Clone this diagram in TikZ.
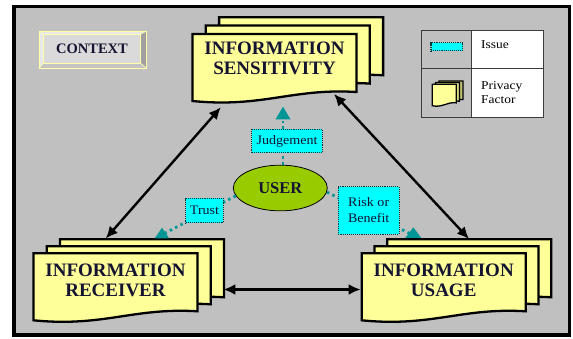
\documentclass[tikz,border=0pt]{standalone}
\usepackage{fontspec}
\setmainfont{Liberation Serif}
\usetikzlibrary{arrows.meta,shapes.geometric}
\definecolor{bg}{RGB}{192,192,192}
\definecolor{sheetyellow}{RGB}{255,255,153}
\definecolor{issuecyan}{RGB}{0,255,255}
\definecolor{tealline}{RGB}{0,150,150}
\definecolor{userg}{RGB}{153,204,0}
\definecolor{navytext}{RGB}{20,20,50}
\definecolor{boxedge}{RGB}{0,60,60}
\definecolor{ctxface}{RGB}{218,218,218}
\definecolor{ctxlight}{RGB}{232,232,232}
\definecolor{ctxdark}{RGB}{160,160,160}
\definecolor{ctxedge}{RGB}{255,255,170}
\definecolor{legline}{RGB}{60,60,60}
\newcommand{\wideT}[1]{\scalebox{1.08}[1]{#1}}
\newcommand{\wideL}[1]{\scalebox{1.12}[1]{#1}}
\tikzset{
  sheetline/.style={fill=sheetyellow, draw=black, line width=2.3pt, line join=miter},
  sheet/.pic={\path[sheetline] (0,0) -- (164,0) -- (164,58)
      .. controls (100,54) and (70,74) .. (0,67) -- cycle;},
  bigtext/.style={align=center, inner sep=0pt, font=\fontsize{19}{20}\selectfont\bfseries, text=navytext},
  issuebox/.style={draw=boxedge, densely dotted, line width=1.1pt, fill=issuecyan,
      inner sep=0pt, align=center, font=\fontsize{13}{15}\selectfont, text=navytext},
  tealdot/.style={draw=tealline, line width=2.8pt, dash pattern=on 2.5pt off 3.5pt},
  blackarrow/.style={draw=black, line width=2.4pt,
      {Latex[length=12pt,width=11pt]}-{Latex[length=12pt,width=11pt]}},
  tealtip/.style={fill=tealline},
  legtext/.style={anchor=base west, inner sep=0pt, font=\fontsize{12}{13}\selectfont, text=black},
}
\begin{document}
\begin{tikzpicture}[x=1pt,y=-1pt]
\useasboundingbox (0,0) rectangle (573,339);
% frame
\draw[line width=3.5pt, fill=bg] (14,6.5) rectangle (569.5,335);

% CONTEXT button
\fill[ctxlight] (39.4,31) rectangle (146.5,68);
\fill[ctxdark] (140.7,34.3) -- (146.5,31) -- (146.5,68) -- (140.7,63.3) -- cycle;
\fill[ctxface!90!black] (43.3,63.3) -- (140.7,63.3) -- (146.5,68) -- (39.4,68) -- cycle;
\draw[ctxedge, line width=0.8pt] (39.4,31) rectangle (146.5,68);
\draw[ctxedge, line width=0.6pt] (39.4,31) -- (43.3,34.3) (146.5,31) -- (140.7,34.3)
   (146.5,68) -- (140.7,63.3) (39.4,68) -- (43.3,63.3);
\node[draw=ctxedge, line width=0.6pt, fill=ctxface, minimum width=97.4pt, minimum height=29pt,
      inner sep=0pt, font=\fontsize{14.5}{16}\selectfont\bfseries, text=navytext] (ctx) at (92,48.8) {CONTEXT};

% legend
\fill[white] (471,31) rectangle (543,117.7);
\draw[legline, line width=1pt] (421,31) rectangle (543,117.7);
\draw[legline, line width=1pt] (471,31) -- (471,117.7);
\draw[legline, line width=1pt] (421,68.3) -- (543,68.3);
\node[issuebox, minimum width=31.7pt, minimum height=8.3pt] (legissue) at (446.8,46.8) {};
\pic[xscale=0.146, yscale=0.32, sheetline/.append style={line width=1.3pt, fill=sheetyellow!75!black}] at (439,81) {sheet};
\pic[xscale=0.146, yscale=0.32, sheetline/.append style={line width=1.3pt, fill=sheetyellow!85!black}] at (435.6,82.6) {sheet};
\pic[xscale=0.146, yscale=0.32, sheetline/.append style={line width=1.3pt}] at (432.3,84.3) {sheet};
\node[legtext] (legI) at (481,48.3) {\wideL{Issue}};
\node[legtext] (legP) at (481,90) {\wideL{Privacy}};
\node[legtext] (legF) at (481,103.3) {\wideL{Factor}};

% sheet stacks
\pic at (219.1,17.3) {sheet};
\pic at (205.8,25.6) {sheet};
\pic at (192.5,34) {sheet};
\node[bigtext] (sens) at (274.5,58.5) {INFORMATION\\SENSITIVITY};

\pic at (60,239.3) {sheet};
\pic at (46.8,246.3) {sheet};
\pic at (33.5,253.3) {sheet};
\node[bigtext] (recv) at (115.5,280) {INFORMATION\\RECEIVER};

\pic at (387.3,239.3) {sheet};
\pic at (374.5,246.3) {sheet};
\pic at (361.7,253.3) {sheet};
\node[bigtext] (usage) at (443.7,280) {INFORMATION\\USAGE};

% black double arrows
\coordinate (sensL) at (220.8,107.3);
\coordinate (recvT) at (105.8,238.5);
\coordinate (sensR) at (334,94);
\coordinate (usageT) at (469,239);
\coordinate (recvR) at (223.4,289.5);
\coordinate (usageL) at (360.6,289.5);
\draw[blackarrow] (sensL) -- (recvT);
\draw[blackarrow] (sensR) -- (usageT);
\draw[blackarrow] (recvR) -- (usageL);

% user and issues
\node[ellipse, draw=black, line width=0.8pt, fill=userg, minimum width=94pt, minimum height=45.7pt,
      inner sep=0pt, font=\fontsize{16.5}{18}\selectfont\bfseries, text=navytext] (user) at (280.3,188) {USER};

\coordinate (jtip) at (283,106.7);
\coordinate (ttip) at (162,227.7);
\coordinate (rtip) at (413.3,227.3);
\draw[tealdot] (user.north -| jtip) -- ([yshift=-14pt]jtip);
\draw[tealdot] (user.190) -- ([shift={(2pt,-6pt)}]ttip);
\draw[tealdot] (user.-5) -- ([shift={(-4pt,-6pt)}]rtip);
\fill[tealtip] (jtip) -- ++(7.5,12.6) -- ++(-15,0) -- cycle;
\fill[tealtip] (ttip) -- ++(7.2,10.6) -- ++(-14.4,0) -- cycle;
\fill[tealtip] (rtip) -- ++(8,10.7) -- ++(-16,0) -- cycle;

\node[issuebox, minimum width=70.6pt, minimum height=23.4pt] (judge) at (287,141) {\wideT{Judgement}};
\node[issuebox, minimum width=37.6pt, minimum height=24.4pt] (trust) at (204.5,210.5) {\wideT{Trust}};
\node[issuebox, minimum width=60.7pt, minimum height=47.6pt, font=\fontsize{13}{16}\selectfont] (risk) at (368.7,210.5) {\wideT{Risk or}\\\wideT{Benefit}};
\end{tikzpicture}
\end{document}
